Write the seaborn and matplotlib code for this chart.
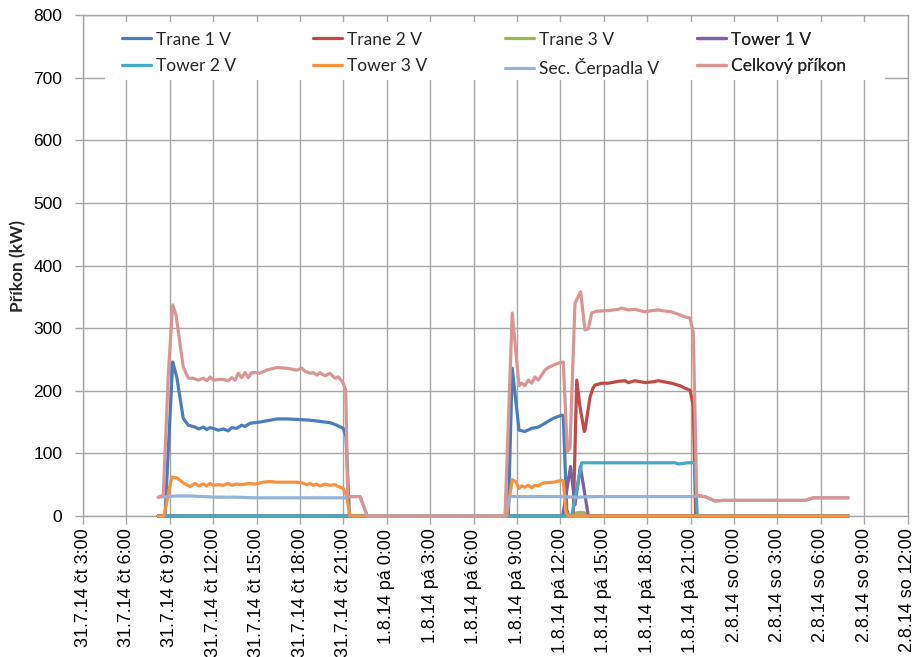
import numpy as np
import pandas as pd
import seaborn as sns
import matplotlib
matplotlib.use("Agg")
import matplotlib.pyplot as plt
from matplotlib.lines import Line2D
from matplotlib.patches import Rectangle
from matplotlib.colors import to_hex

# ---------------- data (time in hours since 31.7.14 0:00, values in kW) ----------------
series_names = ["Trane 1 V", "Trane 2 V", "Trane 3 V", "Tower 1 V",
                "Tower 2 V", "Tower 3 V", "Sec. Čerpadla V", "Celkový příkon"]
series_colors = ["#4A7EBB", "#BE4B48", "#98B954", "#7D60A0",
                 "#46AAC5", "#F69240", "#95B3D7", "#D99694"]

trane1_t = [8.2, 8.67, 9.2, 9.48, 9.93, 10.28, 10.74, 11.0, 11.32, 11.55, 11.78, 12.0, 12.35,
            12.7, 13.04, 13.28, 13.62, 13.97, 14.2, 14.54, 15.23, 15.46, 16.39, 17.08, 18.0,
            18.69, 19.38, 20.07, 20.54, 20.99, 21.18, 21.41, 21.46,
            32.40, 32.67, 33.14, 33.55, 34.02, 34.47, 34.93, 35.51, 36.09, 36.20, 36.44, 36.59, 55.9]
trane1_v = [0, 0, 246, 222, 156, 145, 142, 139, 142, 138, 141, 140, 137,
            139, 136, 141, 140, 145, 143, 148, 150, 151, 155, 155, 154,
            153, 151, 149, 145, 140, 127, 5, 0,
            0, 236, 137, 135, 140, 142, 148, 156, 161, 160, 10, 0, 0]

trane2_t = [8.2, 36.89, 37.13, 37.35, 37.65, 37.70, 38.05, 38.27, 38.39, 38.85, 39.3, 40.0,
            40.46, 40.69, 41.16, 41.85, 42.3, 42.77, 43.69, 44.27, 44.61, 44.96, 45.19, 45.35, 55.9]
trane2_v = [0, 0, 217, 175, 135, 137, 190, 205, 209, 212, 212, 215,
            216, 213, 216, 213, 214, 216, 212, 208, 204, 201, 175, 0, 0]

trane3_t = [8.2, 36.96, 37.13, 37.40, 37.65, 37.85, 55.9]
trane3_v = [0, 0, 5, 6, 5, 0, 0]

tower1_t = [8.2, 36.16, 36.70, 37.01, 37.38, 37.93, 55.9]
tower1_v = [0, 0, 79, 18, 79, 0, 0]

tower2_t = [8.2, 36.78, 37.47, 43.9, 44.2, 44.5, 44.84, 45.30, 45.46, 55.9]
tower2_v = [0, 0, 85, 85, 83, 84, 85, 85, 0, 0]

tower3_t = [8.2, 8.6, 9.13, 9.48, 9.93, 10.4, 10.74, 11.0, 11.32, 11.55, 11.78, 12.0, 12.35,
            12.7, 13.04, 13.28, 13.62, 13.97, 14.43, 14.89, 15.46, 15.93, 16.39, 17.08, 17.77,
            18.12, 18.46, 18.69, 18.92, 19.15, 19.38, 19.73, 20.07, 20.42, 20.65, 20.99, 21.23,
            21.46, 32.29, 32.67, 32.91, 33.14, 33.32, 33.55, 33.78, 34.02, 34.24, 34.47, 34.71,
            34.93, 35.51, 36.09, 36.20, 36.37, 36.55, 55.9]
tower3_v = [0, 0, 62, 61, 53, 47, 52, 48, 51, 48, 52, 49, 50,
            49, 52, 49, 51, 50, 52, 51, 54, 55, 54, 54, 54,
            53, 50, 52, 49, 51, 48, 51, 49, 50, 47, 44, 31,
            0, 0, 58, 55, 44, 48, 46, 49, 45, 49, 48, 52,
            53, 54, 57, 56, 8, 0, 0]

sec_t = [8.2, 8.9, 9.43, 10.4, 11.32, 12.35, 13.5, 15.0, 18.0, 21.16, 21.3, 22.15, 22.65,
         32.17, 32.52, 36.0, 37.0, 38.5, 40.0, 45.19, 45.42, 45.99, 46.68, 47.24, 52.91, 53.48, 55.9]
sec_v = [30, 31, 32, 32, 31, 30, 30, 29, 29, 29, 31, 31, 0,
         0, 31, 31, 30, 31, 31, 31, 32, 31, 24, 25, 25, 29, 29]

total_t = [8.2, 8.55, 8.9, 9.2, 9.43, 9.7, 9.93, 10.28, 10.62, 10.97, 11.32, 11.55, 11.78, 12.01,
           12.35, 12.7, 13.04, 13.28, 13.51, 13.73, 13.97, 14.2, 14.43, 14.66, 14.89, 15.23, 15.7,
           16.39, 17.08, 17.77, 18.12, 18.35, 18.69, 18.92, 19.15, 19.38, 19.73, 20.07, 20.42,
           20.65, 20.95, 21.16, 21.3, 22.15, 22.65,
           32.17, 32.67, 33.14, 33.32, 33.55, 33.78, 34.02, 34.24, 34.47, 34.71, 34.93, 35.16,
           35.51, 35.85, 36.20, 36.48, 36.66, 37.01, 37.40, 37.70, 37.93, 38.16, 38.51, 39.3,
           40.0, 40.24, 40.69, 41.16, 41.85, 42.3, 42.77, 43.3, 43.69, 44.27, 44.61, 44.96,
           45.19, 45.42, 45.99, 46.68, 47.24, 52.91, 53.48, 55.9]
total_v = [30, 33, 228, 337, 321, 276, 238, 220, 220, 217, 220, 216, 222, 217,
           218, 218, 216, 221, 217, 228, 221, 229, 221, 229, 229, 228, 233,
           237, 236, 233, 236, 231, 228, 229, 225, 229, 224, 228, 220,
           222, 214, 201, 31, 31, 0,
           0, 324, 208, 212, 208, 217, 212, 222, 217, 225, 233, 237,
           241, 244, 246, 103, 108, 340, 358, 297, 299, 324, 327, 328,
           330, 332, 329, 330, 326, 328, 329, 327, 326, 321, 318, 316,
           292, 33, 31, 24, 25, 25, 29, 29]

tick_hours = list(range(3, 61, 3))
tick_labels = ["31.7.14 čt 3:00", "31.7.14 čt 6:00", "31.7.14 čt 9:00", "31.7.14 čt 12:00",
               "31.7.14 čt 15:00", "31.7.14 čt 18:00", "31.7.14 čt 21:00", "1.8.14 pá 0:00",
               "1.8.14 pá 3:00", "1.8.14 pá 6:00", "1.8.14 pá 9:00", "1.8.14 pá 12:00",
               "1.8.14 pá 15:00", "1.8.14 pá 18:00", "1.8.14 pá 21:00", "2.8.14 so 0:00",
               "2.8.14 so 3:00", "2.8.14 so 6:00", "2.8.14 so 9:00", "2.8.14 so 12:00"]

# ---------------- build long table ----------------
series_data = [(trane1_t, trane1_v), (trane2_t, trane2_v), (trane3_t, trane3_v),
               (tower1_t, tower1_v), (tower2_t, tower2_v), (tower3_t, tower3_v),
               (sec_t, sec_v), (total_t, total_v)]
frames = []
for name, (t, v) in zip(series_names, series_data):
    frames.append(pd.DataFrame({"hour": t, "kW": v, "series": name}))
df = pd.concat(frames, ignore_index=True)

# ---------------- plot ----------------
sns.set_theme(style="white")
plt.rcParams["font.family"] = ["Liberation Sans", "DejaVu Sans"]

fig = plt.figure(figsize=(9.13, 6.57), dpi=100)
ax = fig.add_axes([83 / 913, 1 - 516 / 657, 824.6 / 913, 501 / 657])

sns.lineplot(data=df, x="hour", y="kW", hue="series", hue_order=series_names,
             palette=dict(zip(series_names, series_colors)), estimator=None, sort=False,
             lw=2.3, legend=False, ax=ax)

# enforce drawing order like the legend (later series on top); do not clip zero lines
order = {c.lower(): i for i, c in enumerate(series_colors)}
for ln in ax.get_lines():
    h = to_hex(ln.get_color()).lower()
    if h in order:
        ln.set_zorder(2.5 + order[h] * 0.01)
        ln.set_clip_on(False)
        ln.set_solid_joinstyle("round")

grid_c = "#A6A6A6"
ax.set_xlim(3, 60)
ax.set_ylim(0, 800)
ax.set_xticks(tick_hours)
ax.set_xticklabels(tick_labels, rotation=90, ha="center", va="top", fontsize=13)
ax.set_yticks(range(0, 801, 100))
ax.set_yticklabels([str(v) for v in range(0, 801, 100)], fontsize=12.5)
ax.grid(True, color=grid_c, lw=1)
ax.set_axisbelow(True)
for s in ax.spines.values():
    s.set_color(grid_c)
    s.set_linewidth(1)
    s.set_zorder(1)
ax.tick_params(axis="both", length=6, width=1, color=grid_c, direction="out",
               labelcolor="black", bottom=True, left=True)
ax.tick_params(axis="x", pad=3)
ax.tick_params(axis="y", pad=9)
ax.set_xlabel("")
ax.set_ylabel("Příkon (kW)", fontsize=12.5, fontweight="bold", family=["Lato", "DejaVu Sans"],
              labelpad=5)

# white legend area
ax.add_patch(Rectangle((0.0267, 0.870), 0.946, 0.116, transform=ax.transAxes,
                       facecolor="white", edgecolor="none", zorder=1.5))

col_x = [0.0473, 0.2789, 0.5117, 0.7446]
for c in range(4):
    idx = [c, c + 4]
    handles = [Line2D([], [], color=series_colors[i], lw=2.3) for i in idx]
    labels = [series_names[i] for i in idx]
    leg = ax.legend(handles, labels, loc="upper left", bbox_to_anchor=(col_x[c], 0.967),
                    bbox_transform=ax.transAxes, frameon=False, borderpad=0, borderaxespad=0,
                    handlelength=1.65, handletextpad=0.3, labelspacing=0.6,
                    prop={"family": ["Lato", "DejaVu Sans"], "size": 12.5})
    leg.set_zorder(3)
    ax.add_artist(leg)

fig.savefig("out.png", dpi=100)
